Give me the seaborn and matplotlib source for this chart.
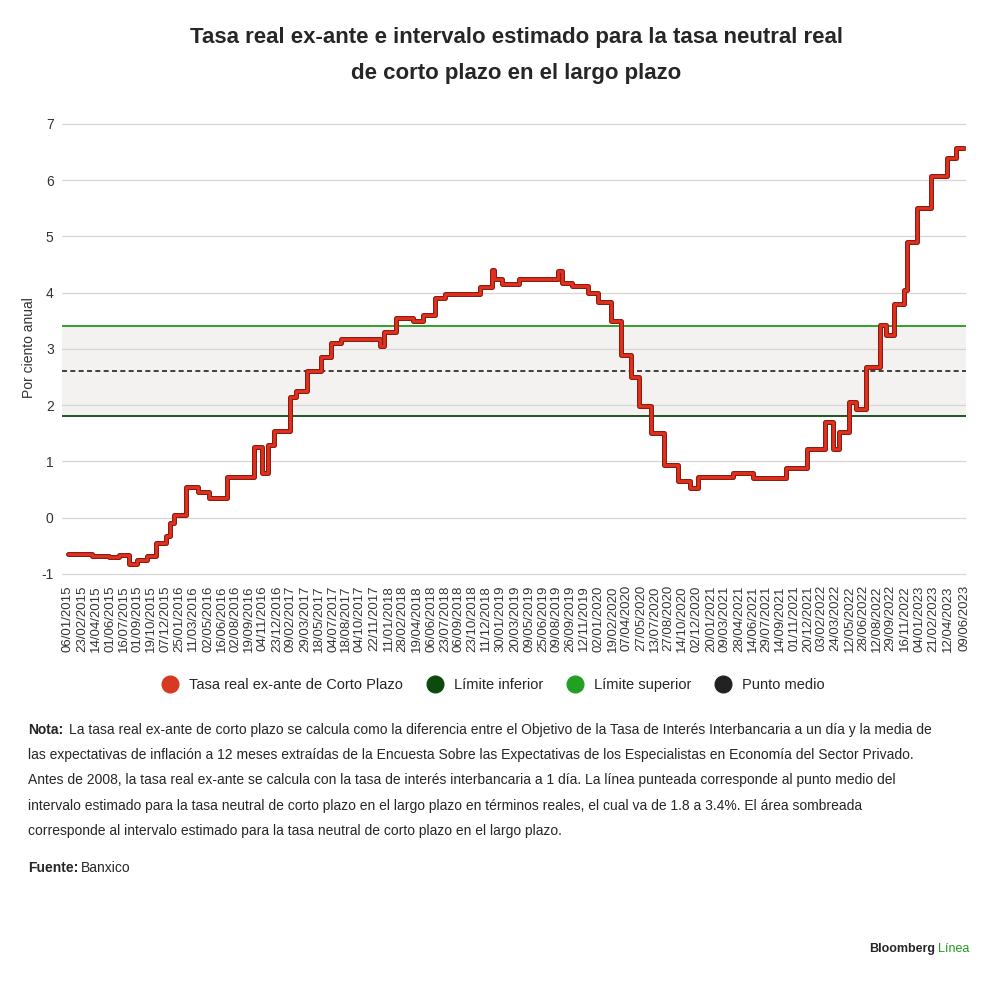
import numpy as np
import pandas as pd
import matplotlib
matplotlib.use("Agg")
import matplotlib.pyplot as plt
from matplotlib.lines import Line2D
import seaborn as sns

# tick labels on the x axis
tick_labels = [
    "06/01/2015", "23/02/2015", "14/04/2015", "01/06/2015", "16/07/2015", "01/09/2015",
    "19/10/2015", "07/12/2015", "25/01/2016", "11/03/2016", "02/05/2016", "16/06/2016",
    "02/08/2016", "19/09/2016", "04/11/2016", "23/12/2016", "09/02/2017", "29/03/2017",
    "18/05/2017", "04/07/2017", "18/08/2017", "04/10/2017", "22/11/2017", "11/01/2018",
    "28/02/2018", "19/04/2018", "06/06/2018", "23/07/2018", "06/09/2018", "23/10/2018",
    "11/12/2018", "30/01/2019", "20/03/2019", "09/05/2019", "25/06/2019", "09/08/2019",
    "26/09/2019", "12/11/2019", "02/01/2020", "19/02/2020", "07/04/2020", "27/05/2020",
    "13/07/2020", "27/08/2020", "14/10/2020", "02/12/2020", "20/01/2021", "09/03/2021",
    "28/04/2021", "14/06/2021", "29/07/2021", "14/09/2021", "01/11/2021", "20/12/2021",
    "03/02/2022", "24/03/2022", "12/05/2022", "28/06/2022", "12/08/2022", "29/09/2022",
    "16/11/2022", "04/01/2023", "21/02/2023", "12/04/2023", "09/06/2023",
]

# step changes: weeks since 06/01/2015 and rate value (%)
weeks = [0, 12, 20, 25, 30, 34, 39, 43, 48, 50, 52, 58, 64, 69, 78, 91, 95, 98, 101,
         109, 112, 117, 124, 129, 134, 153, 155, 161, 169, 174, 180, 185, 202, 208,
         209, 213, 221, 240, 242, 247, 255, 260, 266, 271, 276, 280, 286, 292, 299,
         305, 309, 326, 336, 352, 362, 371, 375, 378, 383, 386, 391, 398, 401, 405,
         410, 411, 416, 423, 431, 435, 439]
tasa = [-0.65, -0.68, -0.70, -0.67, -0.82, -0.75, -0.68, -0.45, -0.32, -0.10, 0.05,
        0.55, 0.45, 0.35, 0.72, 1.25, 0.80, 1.30, 1.55, 2.15, 2.25, 2.60, 2.85, 3.10,
        3.18, 3.05, 3.30, 3.55, 3.50, 3.60, 3.90, 3.97, 4.10, 4.40, 4.25, 4.15, 4.25,
        4.38, 4.17, 4.12, 4.00, 3.83, 3.50, 2.90, 2.50, 1.98, 1.50, 0.93, 0.65, 0.53,
        0.73, 0.80, 0.70, 0.88, 1.23, 1.70, 1.23, 1.53, 2.05, 1.93, 2.68, 3.42, 3.25,
        3.80, 4.05, 4.90, 5.50, 6.08, 6.40, 6.57, 6.57]

lim_inf = 1.8
lim_sup = 3.4
punto_medio = 2.6

start = pd.Timestamp("2015-01-06")
df = pd.DataFrame({"fecha": start + pd.to_timedelta(np.array(weeks) * 7, unit="D"),
                   "tasa": tasa})
tick_dates = pd.to_datetime(tick_labels, format="%d/%m/%Y")

sns.set_theme(style="white")
plt.rcParams["font.family"] = ["Liberation Sans", "DejaVu Sans"]

fig = plt.figure(figsize=(10, 9.86), dpi=100)
ax = fig.add_axes([0.062, 0.415, 0.904, 0.465])

x0, x1 = tick_dates[0], tick_dates[-1]
ax.axhspan(lim_inf, lim_sup, color="#f3f2f1", zorder=0)
for v in range(-1, 8):
    ax.axhline(v, color="#d5d5d5", lw=0.9, zorder=1)
ax.axhline(lim_sup, color="#1f9a1f", lw=1.3, zorder=2)
ax.axhline(lim_inf, color="#0d4a0d", lw=1.3, zorder=2)
ax.axhline(punto_medio, color="#222222", lw=1.2, ls=(0, (3, 2)), zorder=2)

ax.step(df["fecha"], df["tasa"], where="post", color="#8e1a10", lw=3.6, zorder=3)
sns.lineplot(x=df["fecha"], y=df["tasa"], drawstyle="steps-post", color="#e0321f",
             lw=2.0, ax=ax, zorder=4)

ax.set_xlim(x0 - pd.Timedelta(days=20), x1 + pd.Timedelta(days=5))
ax.set_ylim(-1.05, 7.1)
ax.set_yticks(range(-1, 8))
ax.set_yticklabels([str(v) for v in range(-1, 8)], fontsize=10, color="#333333")
ax.set_xticks(tick_dates)
ax.set_xticklabels(tick_labels, rotation=90, fontsize=9.5, color="#333333")
ax.tick_params(axis="both", length=0, pad=6)
ax.set_xlabel("")
ax.set_ylabel("Por ciento anual", fontsize=10, color="#333333", labelpad=4)
sns.despine(ax=ax, left=True, bottom=True)

fig.text(0.516, 0.962, "Tasa real ex-ante e intervalo estimado para la tasa neutral real",
         ha="center", va="center", fontsize=16, fontweight="bold")
fig.text(0.516, 0.925, "de corto plazo en el largo plazo",
         ha="center", va="center", fontsize=16, fontweight="bold")

handles = [Line2D([], [], marker="o", ls="", markersize=12, color=c)
           for c in ["#d63a22", "#0d4a0d", "#22a022", "#222222"]]
fig.legend(handles, ["Tasa real ex-ante de Corto Plazo", "Límite inferior",
                     "Límite superior", "Punto medio"],
           loc="center", bbox_to_anchor=(0.49, 0.305), ncol=4, frameon=False,
           fontsize=10.5, handletextpad=0.3, columnspacing=1.2)

nota_lineas = [
    "La tasa real ex-ante de corto plazo se calcula como la diferencia entre el Objetivo de la Tasa de Interés Interbancaria a un día y la media de",
    "las expectativas de inflación a 12 meses extraídas de la Encuesta Sobre las Expectativas de los Especialistas en Economía del Sector Privado.",
    "Antes de 2008, la tasa real ex-ante se calcula con la tasa de interés interbancaria a 1 día. La línea punteada corresponde al punto medio del",
    "intervalo estimado para la tasa neutral de corto plazo en el largo plazo en términos reales, el cual va de 1.8 a 3.4%. El área sombreada",
    "corresponde al intervalo estimado para la tasa neutral de corto plazo en el largo plazo.",
]
y_nota = 0.260
fig.text(0.028, y_nota, "Nota:", fontsize=10, fontweight="bold", va="center")
for i, linea in enumerate(nota_lineas):
    fig.text(0.069 if i == 0 else 0.028, y_nota - i * 0.0257, linea, fontsize=10,
             va="center")
fig.text(0.028, 0.120, "Fuente:", fontsize=10, fontweight="bold", va="center")
fig.text(0.081, 0.120, "Banxico", fontsize=10, va="center")

fig.text(0.935, 0.038, "Bloomberg", fontsize=9, fontweight="bold", ha="right", va="center")
fig.text(0.938, 0.038, "Línea", fontsize=9, color="#1f9a1f", ha="left", va="center")

fig.savefig("out.png", dpi=100, facecolor="white")
